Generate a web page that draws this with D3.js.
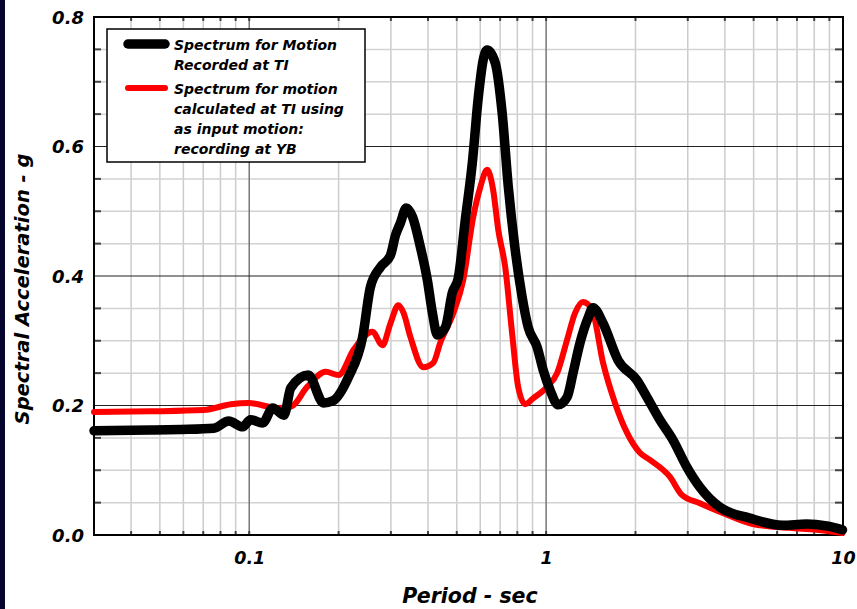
<!DOCTYPE html>
<html lang="en">
<head>
<meta charset="utf-8">
<title>Spectral Acceleration</title>
<script src="https://cdnjs.cloudflare.com/ajax/libs/d3/7.8.5/d3.min.js"></script>
<style>
body { margin: 0; background: #fff; }
text { font-family: "DejaVu Sans", sans-serif; font-weight: bold; font-style: italic; }
</style>
</head>
<body>
<script>

// periods (sec) and spectral acceleration (g)
var recordedT = [0.030, 0.0467, 0.0589, 0.076, 0.0853, 0.0951, 0.101, 0.111, 0.120, 0.131, 0.138, 0.158,
	0.178, 0.191, 0.216, 0.241, 0.256, 0.277, 0.299, 0.311, 0.323, 0.338, 0.355, 0.377, 0.398, 0.414,
	0.430, 0.458, 0.483, 0.506, 0.534, 0.564, 0.591, 0.614, 0.633, 0.674, 0.711, 0.745, 0.787, 0.830,
	0.870, 0.933, 0.977, 1.031, 1.097, 1.177, 1.232, 1.301, 1.384, 1.439, 1.555, 1.747, 2.023, 2.185,
	2.415, 2.673, 2.979, 3.295, 3.846, 4.851, 6.26, 7.54, 8.80, 9.96];
var recordedSa = [0.161, 0.162, 0.163, 0.165, 0.176, 0.167, 0.178, 0.173, 0.196, 0.185, 0.227, 0.247,
	0.204, 0.207, 0.244, 0.306, 0.383, 0.414, 0.432, 0.463, 0.482, 0.505, 0.491, 0.445, 0.394, 0.343,
	0.309, 0.321, 0.374, 0.397, 0.486, 0.574, 0.676, 0.734, 0.749, 0.729, 0.652, 0.540, 0.440, 0.368,
	0.321, 0.290, 0.255, 0.224, 0.201, 0.213, 0.250, 0.297, 0.335, 0.351, 0.327, 0.270, 0.239, 0.213,
	0.178, 0.147, 0.105, 0.074, 0.043, 0.026, 0.015, 0.017, 0.014, 0.008];

var calcT = [0.030, 0.0467, 0.0703, 0.0867, 0.0994, 0.1247, 0.138, 0.157, 0.181, 0.200, 0.2246, 0.260,
	0.281, 0.299, 0.318, 0.331, 0.349, 0.386, 0.417, 0.440, 0.487, 0.526, 0.568, 0.600, 0.633, 0.663,
	0.690, 0.728, 0.768, 0.805, 0.850, 0.904, 1.008, 1.089, 1.176, 1.252, 1.331, 1.428, 1.555, 1.706,
	1.872, 2.070, 2.237, 2.61, 2.865, 3.295, 3.935, 4.965, 6.61, 8.15, 9.96];
var calcSa = [0.190, 0.191, 0.193, 0.202, 0.204, 0.196, 0.198, 0.229, 0.252, 0.247, 0.286, 0.314,
	0.293, 0.327, 0.355, 0.343, 0.306, 0.259, 0.266, 0.297, 0.343, 0.394, 0.491, 0.537, 0.564, 0.533,
	0.471, 0.414, 0.312, 0.229, 0.202, 0.211, 0.229, 0.250, 0.301, 0.343, 0.360, 0.348, 0.266, 0.204,
	0.158, 0.127, 0.116, 0.090, 0.062, 0.049, 0.034, 0.017, 0.011, 0.008, 0.003];

var xTickLabels = [0.1, 1, 10];
var yTickLabels = [0, 0.2, 0.4, 0.6, 0.8];
var legendRecorded = ["Spectrum for Motion", "Recorded at TI"];
var legendCalc = ["Spectrum for motion", "calculated at TI using", "as input motion:", "recording at YB"];

var W = 857, H = 609;
var plotL = 94, plotR = 843, plotT = 17, plotB = 535;

var svg = d3.select("body").append("svg")
	.attr("width", W)
	.attr("height", H);

svg.append("rect")
	.attr("width", W).attr("height", H)
	.attr("fill", "#fff");
svg.append("rect")
	.attr("width", 5).attr("height", H)
	.attr("fill", "#05052e");

var x = d3.scaleLog().domain([0.03, 10]).range([plotL, plotR]);
var y = d3.scaleLinear().domain([0, 0.8]).range([plotB, plotT]);

// minor x grid values: 0.04..0.09, 0.2..0.9, 2..9
var minorX = [];
[0.01, 0.1, 1].forEach(function(base){
	for (var k = 2; k <= 9; ++k) {
		var v = base * k;
		if (v > 0.031 && v < 9.99) minorX.push(v);
	}
});
var minorY = d3.range(0.05, 0.8, 0.05).filter(function(v){
	return Math.abs(v / 0.2 - Math.round(v / 0.2)) > 0.01;
});

var grid = svg.append("g");

grid.selectAll("line.vx")
	.data(minorX)
	.enter().append("line")
	.attr("x1", function(d){ return x(d); })
	.attr("x2", function(d){ return x(d); })
	.attr("y1", plotT).attr("y2", plotB)
	.attr("stroke", "#cccccc")
	.attr("stroke-width", 1.5);

grid.selectAll("line.hy")
	.data(minorY)
	.enter().append("line")
	.attr("x1", plotL).attr("x2", plotR)
	.attr("y1", function(d){ return y(d); })
	.attr("y2", function(d){ return y(d); })
	.attr("stroke", "#d2d2d2")
	.attr("stroke-width", 1.5);

grid.selectAll("line.mx")
	.data([0.1, 1])
	.enter().append("line")
	.attr("x1", function(d){ return x(d); })
	.attr("x2", function(d){ return x(d); })
	.attr("y1", plotT).attr("y2", plotB)
	.attr("stroke", "#777")
	.attr("stroke-width", 1.5);

grid.selectAll("line.my")
	.data([0.2, 0.4, 0.6])
	.enter().append("line")
	.attr("x1", plotL).attr("x2", plotR)
	.attr("y1", function(d){ return y(d); })
	.attr("y2", function(d){ return y(d); })
	.attr("stroke", "#222")
	.attr("stroke-width", 1.2);

// inward ticks on the frame
var tk = svg.append("g").attr("stroke", "#444").attr("stroke-width", 2);
minorY.forEach(function(d){
	tk.append("line").attr("x1", plotL).attr("x2", plotL + 7).attr("y1", y(d)).attr("y2", y(d));
	tk.append("line").attr("x1", plotR - 8).attr("x2", plotR).attr("y1", y(d)).attr("y2", y(d));
});
minorX.concat([0.1, 1]).forEach(function(d){
	tk.append("line").attr("x1", x(d)).attr("x2", x(d)).attr("y1", plotT).attr("y2", plotT + 4);
	tk.append("line").attr("x1", x(d)).attr("x2", x(d)).attr("y1", plotB - 4).attr("y2", plotB);
});

svg.append("rect")
	.attr("x", plotL).attr("y", plotT)
	.attr("width", plotR - plotL).attr("height", plotB - plotT)
	.attr("fill", "none")
	.attr("stroke", "#000")
	.attr("stroke-width", 2);

// curves
var line = d3.line()
	.x(function(d){ return x(d[0]); })
	.y(function(d){ return y(d[1]); })
	.curve(d3.curveMonotoneX);

svg.append("path")
	.datum(d3.zip(calcT, calcSa))
	.attr("d", line)
	.attr("fill", "none")
	.attr("stroke", "#ff0000")
	.attr("stroke-width", 6)
	.attr("stroke-linejoin", "round")
	.attr("stroke-linecap", "round");

svg.append("path")
	.datum(d3.zip(recordedT, recordedSa))
	.attr("d", line)
	.attr("fill", "none")
	.attr("stroke", "#000")
	.attr("stroke-width", 9.5)
	.attr("stroke-linejoin", "round")
	.attr("stroke-linecap", "round");

// axes labels
var xAxis = d3.axisBottom(x)
	.tickValues(xTickLabels)
	.tickSize(0)
	.tickPadding(0)
	.tickFormat(function(d){ return d < 1 ? d3.format(".1f")(d) : d3.format("d")(d); });

var gx = svg.append("g")
	.attr("transform", "translate(0," + 564 + ")")
	.call(xAxis);
gx.select(".domain").remove();
gx.selectAll("text")
	.attr("dy", 0)
	.style("font-size", "17.5px")
	.style("font-family", "DejaVu Sans")
	.style("font-weight", "bold")
	.style("font-style", "italic")
	.attr("fill", "#000");

var yAxis = d3.axisLeft(y)
	.tickValues(yTickLabels)
	.tickSize(0)
	.tickPadding(0)
	.tickFormat(d3.format(".1f"));

var gy = svg.append("g")
	.attr("transform", "translate(" + 84 + ",0)")
	.call(yAxis);
gy.select(".domain").remove();
gy.selectAll("text")
	.attr("dy", "0.35em")
	.style("font-size", "18px")
	.style("font-family", "DejaVu Sans")
	.style("font-weight", "bold")
	.style("font-style", "italic")
	.attr("fill", "#000");

svg.append("text")
	.attr("x", 470)
	.attr("y", 603)
	.attr("text-anchor", "middle")
	.style("font-size", "20.5px")
	.text("Period - sec");

svg.append("text")
	.attr("transform", "translate(" + 29 + "," + 289 + ") rotate(-90)")
	.attr("text-anchor", "middle")
	.style("font-size", "19.5px")
	.text("Spectral Acceleration - g");

// legend
var lg = svg.append("g");
lg.append("rect")
	.attr("x", 107).attr("y", 29)
	.attr("width", 258).attr("height", 133)
	.attr("fill", "#fff")
	.attr("stroke", "#000")
	.attr("stroke-width", 1.5);

lg.append("line")
	.attr("x1", 128).attr("x2", 165)
	.attr("y1", 44).attr("y2", 44)
	.attr("stroke", "#000").attr("stroke-width", 9.5)
	.attr("stroke-linecap", "round");
lg.append("line")
	.attr("x1", 128).attr("x2", 165)
	.attr("y1", 88).attr("y2", 88)
	.attr("stroke", "#ff0000").attr("stroke-width", 6)
	.attr("stroke-linecap", "round");

lg.selectAll("text.rec")
	.data(legendRecorded)
	.enter().append("text")
	.attr("x", 174)
	.attr("y", function(d, i){ return 50 + i * 20; })
	.style("font-size", "14px")
	.text(function(d){ return d; });

lg.selectAll("text.calc")
	.data(legendCalc)
	.enter().append("text")
	.attr("x", 174)
	.attr("y", function(d, i){ return 94 + i * 20; })
	.style("font-size", "14px")
	.text(function(d){ return d; });

</script>
</body>
</html>
